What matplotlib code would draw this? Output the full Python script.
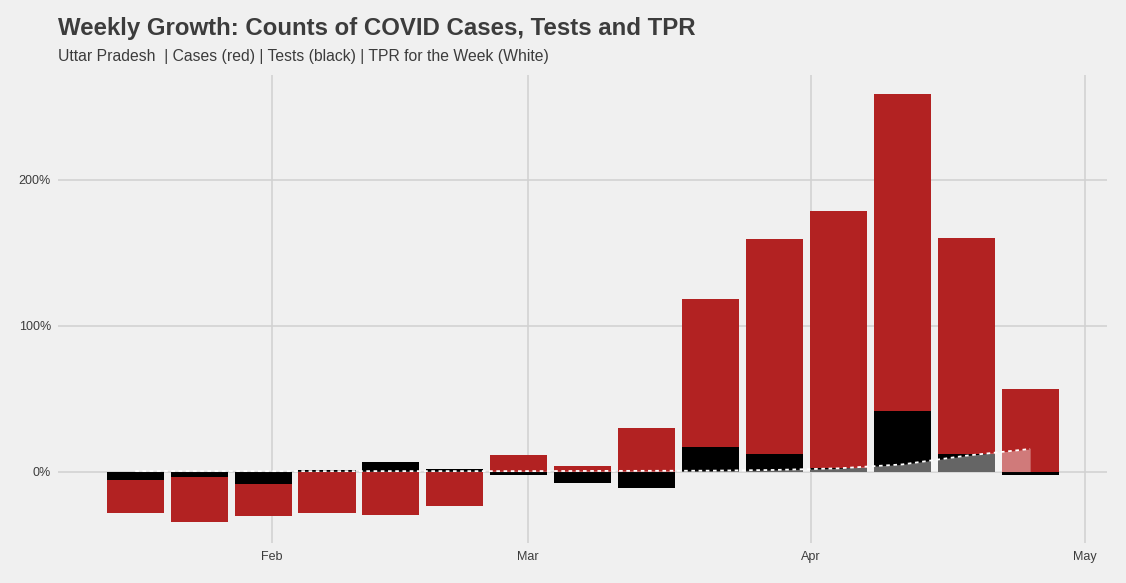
import matplotlib
matplotlib.use('Agg')
import matplotlib.pyplot as plt
import matplotlib.dates as mdates
import numpy as np
import pandas as pd

# weekly growth (%)
weeks = pd.to_datetime(['2021-01-17', '2021-01-24', '2021-01-31', '2021-02-07', '2021-02-14',
                        '2021-02-21', '2021-02-28', '2021-03-07', '2021-03-14', '2021-03-21',
                        '2021-03-28', '2021-04-04', '2021-04-11', '2021-04-18', '2021-04-25'])
cases_growth = [-28.3, -34.5, -30.4, -28.3, -29.7, -23.5, 11.3, 3.8, 29.9, 118.6,
                159.8, 178.4, 258.8, 160.5, 56.7]
tests_growth = [-5.8, -3.8, -8.4, 1.0, 6.5, 1.7, -2.2, -7.7, -11.1, 16.8,
                12.0, 2.4, 41.6, 12.0, -2.2]
tpr_week = [0.4, 0.4, 0.3, 0.3, 0.3, 0.3, 0.3, 0.4, 0.5, 0.6,
            1.1, 2.2, 4.9, 10.9, 15.5]

bg = '#f0f0f0'
txt = '#3c3c3c'

plt.rcParams['font.family'] = ['Liberation Sans', 'DejaVu Sans']

fig = plt.figure(figsize=(11.26, 5.83), dpi=100, facecolor=bg)
ax = fig.add_axes([58 / 1126, 1 - 543 / 583, (1107 - 58) / 1126, (543 - 75) / 583])
ax.set_facecolor(bg)

bw = 6.25
ax.bar(weeks, cases_growth, width=bw, color='#b22222', zorder=2)
ax.bar(weeks, tests_growth, width=bw, color='black', zorder=3)
ax.fill_between(weeks, 0, tpr_week, color='white', alpha=0.4, linewidth=0, zorder=4)
ax.plot(weeks, tpr_week, color='white', linestyle=(0, (2, 2)), linewidth=1.3, zorder=5)

ax.set_xlim(pd.Timestamp('2021-01-08 13:00'), pd.Timestamp('2021-05-03 10:00'))
ax.set_ylim(-49, 272)
ax.set_yticks([0, 100, 200])
ax.set_yticklabels(['0%', '100%', '200%'])
ax.set_xticks(pd.to_datetime(['2021-02-01', '2021-03-01', '2021-04-01', '2021-05-01']))
ax.xaxis.set_major_formatter(mdates.DateFormatter('%b'))

ax.grid(True, color='#d2d2d2', linewidth=1.2, zorder=0)
ax.set_axisbelow(True)
for s in ax.spines.values():
    s.set_visible(False)
ax.tick_params(axis='y', length=0, labelsize=9, colors=txt, pad=5)
ax.tick_params(axis='x', length=0, labelsize=9, colors=txt, pad=6)

fig.text(58 / 1126, 1 - 28.5 / 583, 'Weekly Growth: Counts of COVID Cases, Tests and TPR',
         fontsize=17.3, fontweight='bold', color=txt, va='center', ha='left')
fig.text(58 / 1126, 1 - 57 / 583, 'Uttar Pradesh  | Cases (red) | Tests (black) | TPR for the Week (White)',
         fontsize=11.3, color=txt, va='center', ha='left')

fig.savefig('out.png', dpi=100, facecolor=bg)
